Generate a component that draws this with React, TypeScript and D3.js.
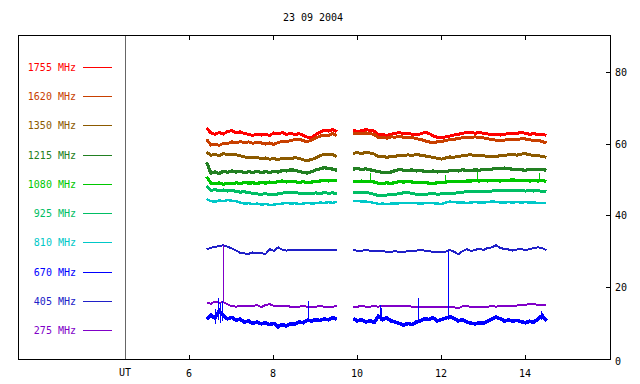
import React from "react";
import * as d3 from "d3";

// ---- data ----
const title = "23 09 2004";
const hourTicks = [6, 8, 10, 12, 14];
const valueTicks = [0, 20, 40, 60, 80];
const seg1Start = 6.42;
const seg2Start = 9.91;
const sampleStep = 0.1;

const freqLabels = ["1755 MHz", "1620 MHz", "1350 MHz", "1215 MHz", "1080 MHz", "925 MHz", "810 MHz", "670 MHz", "405 MHz", "275 MHz"];
const freqColors = ["#ff0000", "#c84000", "#8c5a00", "#228022", "#00c800", "#00be64", "#00c8c8", "#0000ff", "#2020c8", "#8000c8"];

const s1755a = [64.3, 63.0, 62.6, 63.1, 62.7, 63.4, 63.6, 63.0, 63.3, 62.8, 62.6, 62.3, 62.7, 62.4, 62.6, 62.3, 63.0, 62.7, 63.1, 62.6, 62.9, 62.5, 62.8, 62.3, 61.8, 61.5, 62.6, 63.2, 63.8, 63.5, 63.9, 63.3];
const s1755b = [63.8, 63.3, 63.6, 63.9, 63.7, 63.5, 62.4, 62.6, 62.3, 62.6, 62.9, 63.1, 62.8, 62.9, 62.6, 62.5, 62.7, 63.1, 62.9, 62.2, 61.8, 61.7, 61.9, 62.1, 62.4, 62.6, 62.9, 63.1, 63.2, 62.9, 63.1, 62.9, 62.7, 62.5, 62.6, 62.4, 62.6, 62.8, 62.7, 62.9, 63.1, 62.9, 62.6, 62.8, 62.5, 62.6, 62.3];
const s1620a = [61.2, 59.6, 59.9, 59.5, 60.1, 60.0, 60.5, 60.2, 60.6, 60.3, 60.5, 60.1, 60.4, 60.2, 59.9, 60.2, 59.8, 60.3, 60.6, 60.5, 60.9, 61.1, 61.3, 60.8, 60.6, 61.0, 61.6, 62.1, 62.4, 62.3, 62.8, 62.2];
const s1620b = [62.7, 62.9, 62.7, 63.0, 62.8, 62.6, 61.6, 61.8, 61.5, 61.9, 61.8, 62.0, 61.8, 61.6, 61.7, 61.4, 61.2, 60.8, 60.5, 60.3, 60.5, 60.6, 60.9, 61.1, 61.2, 61.5, 61.6, 61.8, 61.7, 61.9, 61.7, 61.6, 61.4, 61.1, 61.0, 60.9, 61.0, 61.2, 61.3, 61.1, 61.4, 61.3, 61.1, 60.9, 61.0, 60.6, 60.2];
const s1350a = [57.6, 56.8, 57.0, 56.7, 57.2, 57.0, 57.1, 56.9, 56.6, 56.3, 56.1, 56.0, 56.2, 55.8, 56.0, 55.7, 55.8, 55.6, 55.9, 56.0, 55.8, 56.1, 55.9, 55.5, 55.3, 55.6, 56.0, 56.6, 57.1, 56.9, 57.0, 56.3];
const s1350b = [57.3, 57.5, 57.2, 57.6, 57.4, 57.1, 56.3, 56.5, 56.2, 56.4, 56.5, 56.7, 56.6, 56.9, 56.7, 57.0, 56.8, 56.6, 56.4, 56.2, 55.9, 55.7, 56.0, 56.3, 56.2, 56.5, 56.6, 56.8, 56.9, 56.7, 56.8, 56.6, 56.5, 56.3, 56.5, 56.6, 56.7, 56.9, 57.0, 56.8, 57.1, 57.2, 56.9, 56.7, 56.6, 56.5, 56.2];
const s1215a = [54.8, 51.8, 52.1, 51.7, 52.3, 52.0, 52.4, 52.1, 52.3, 51.9, 52.2, 52.0, 52.3, 51.9, 52.2, 52.0, 52.3, 52.1, 52.5, 52.4, 52.7, 52.6, 52.3, 52.0, 51.8, 52.2, 52.7, 53.0, 53.3, 53.1, 52.9, 52.6];
const s1215b = [52.9, 53.1, 52.8, 53.0, 52.7, 52.5, 52.2, 52.0, 51.9, 52.1, 52.5, 52.8, 52.6, 52.5, 52.7, 52.4, 52.5, 52.3, 52.2, 52.4, 52.1, 52.3, 52.2, 52.5, 52.6, 52.4, 52.7, 52.6, 52.5, 52.7, 52.6, 52.8, 52.7, 52.9, 53.1, 53.0, 53.2, 53.0, 52.9, 52.8, 52.7, 52.6, 52.8, 52.9, 52.7, 52.8, 52.6];
const s1080a = [50.8, 49.0, 48.8, 49.1, 48.7, 49.0, 48.8, 49.1, 48.9, 49.2, 49.0, 49.1, 48.9, 49.2, 49.0, 49.3, 49.1, 49.4, 49.6, 49.3, 49.5, 49.4, 49.2, 49.4, 49.1, 49.3, 49.5, 49.6, 49.8, 49.6, 49.7, 49.8];
const s1080b = [49.5, 49.4, 49.6, 49.4, 49.5, 49.3, 49.0, 48.9, 49.1, 48.9, 49.2, 49.4, 49.3, 49.5, 49.3, 49.2, 49.1, 49.2, 49.0, 48.9, 49.1, 49.2, 49.3, 49.5, 49.4, 49.5, 49.4, 49.6, 49.6, 49.7, 49.6, 49.7, 49.6, 49.8, 49.7, 49.6, 49.7, 49.8, 49.9, 49.8, 49.7, 49.8, 49.6, 49.7, 49.6, 49.7, 49.5];
const s925a = [48.2, 47.0, 47.2, 46.9, 47.1, 46.8, 47.0, 46.7, 46.5, 46.6, 46.3, 46.2, 46.0, 45.9, 46.1, 45.8, 45.7, 46.0, 46.2, 46.4, 46.3, 46.5, 46.2, 46.0, 46.2, 46.1, 46.3, 46.0, 46.4, 46.2, 46.3, 46.1];
const s925b = [46.4, 46.3, 46.5, 46.4, 46.2, 45.9, 45.5, 45.6, 45.7, 45.8, 45.9, 46.1, 46.3, 46.4, 46.1, 45.9, 45.8, 45.9, 46.0, 46.1, 45.9, 46.0, 46.1, 46.0, 46.2, 46.3, 46.5, 46.6, 46.7, 46.6, 46.8, 46.7, 46.6, 46.8, 46.9, 47.0, 46.9, 47.0, 46.9, 46.8, 46.9, 46.8, 46.9, 46.8, 46.9, 46.7, 46.6];
const s810a = [44.6, 44.0, 43.8, 44.2, 44.0, 44.3, 44.1, 44.0, 43.6, 43.3, 43.4, 43.2, 43.3, 43.0, 43.2, 42.9, 43.0, 43.2, 43.3, 43.5, 43.3, 43.4, 43.2, 43.3, 43.5, 43.3, 43.4, 43.6, 43.5, 43.7, 43.5, 43.8];
const s810b = [44.1, 44.0, 43.9, 43.9, 43.7, 43.5, 43.2, 43.3, 43.2, 43.3, 43.3, 43.4, 43.5, 43.4, 43.5, 43.4, 43.3, 43.4, 43.5, 43.4, 43.3, 43.2, 43.6, 43.9, 43.7, 43.6, 43.6, 43.5, 43.6, 43.7, 43.6, 43.6, 43.7, 43.9, 43.8, 43.6, 43.6, 43.7, 43.6, 43.7, 43.6, 43.7, 43.6, 43.6, 43.5, 43.5, 43.4];
const s670a = [11.0, 12.2, 11.4, 13.5, 12.0, 11.2, 11.6, 10.8, 11.1, 10.3, 10.6, 9.9, 10.3, 9.8, 10.1, 9.6, 9.9, 9.0, 9.6, 9.2, 9.8, 9.7, 10.3, 10.1, 10.8, 10.6, 11.0, 10.7, 11.2, 10.9, 11.5, 11.1];
const s670b = [11.3, 10.6, 11.0, 10.3, 10.7, 10.2, 11.9, 11.0, 11.5, 10.6, 10.3, 9.9, 9.4, 9.9, 9.6, 10.3, 10.6, 11.2, 11.0, 11.5, 10.6, 11.0, 11.4, 11.8, 11.3, 10.6, 10.9, 10.3, 10.0, 9.8, 10.1, 9.9, 10.6, 11.1, 11.7, 11.2, 10.6, 10.9, 10.5, 10.8, 10.4, 10.1, 10.5, 10.2, 11.2, 12.1, 10.6];
const s405a = [30.5, 31.0, 31.2, 31.5, 31.7, 31.3, 30.8, 30.2, 29.6, 29.4, 29.3, 29.7, 29.4, 29.5, 29.2, 30.6, 30.1, 31.1, 30.5, 30.2, 30.4, 30.4, 30.5, 30.3, 30.4, 30.4, 30.3, 30.5, 30.4, 30.3, 30.5, 30.3];
const s405b = [30.3, 30.2, 30.2, 30.3, 30.2, 30.2, 30.1, 30.0, 29.9, 29.9, 30.0, 29.9, 29.9, 30.0, 30.1, 30.2, 30.4, 30.2, 30.0, 29.9, 29.8, 29.7, 29.9, 30.4, 29.9, 29.2, 30.0, 30.6, 30.1, 30.4, 30.7, 30.4, 30.9, 31.1, 31.7, 30.9, 30.7, 30.5, 30.2, 30.5, 30.6, 30.4, 30.6, 30.9, 31.1, 30.9, 30.3];
const s275a = [15.8, 15.4, 16.0, 15.7, 15.8, 15.2, 14.7, 14.6, 14.8, 14.7, 14.8, 14.8, 15.0, 14.5, 15.0, 15.3, 14.8, 14.7, 14.8, 14.7, 14.6, 14.6, 14.6, 14.7, 14.6, 14.6, 14.6, 14.7, 14.6, 14.6, 14.6, 14.7];
const s275b = [14.6, 14.6, 14.7, 14.6, 14.6, 14.7, 14.6, 14.8, 14.7, 14.8, 14.7, 14.8, 14.7, 14.7, 14.6, 14.5, 14.4, 14.5, 14.6, 14.6, 14.6, 14.6, 14.6, 14.5, 14.4, 14.1, 14.7, 14.8, 14.5, 14.4, 14.6, 14.6, 14.6, 14.7, 14.6, 14.7, 14.8, 14.8, 14.8, 14.9, 15.0, 15.1, 15.3, 15.3, 15.1, 15.1, 15.0];

// brief bursts: series index, hour, low, high
const spikeHours = [6.62, 6.70, 6.74, 6.78, 8.84, 8.12, 10.54, 10.58, 11.46, 12.17, 14.38, 6.81, 10.31, 12.1, 12.85, 14.33];
const spikeSeries = [7, 7, 7, 7, 7, 7, 7, 7, 7, 7, 7, 9, 4, 4, 4, 4];
const spikeLow = [9.8, 11.0, 10.0, 10.5, 10.5, 8.3, 10.5, 10.8, 10.3, 11.0, 10.8, 15.7, 49.5, 49.3, 49.7, 49.6];
const spikeHigh = [13.8, 17.0, 15.5, 16.3, 16.2, 9.6, 15.0, 14.2, 16.9, 30.0, 13.5, 31.8, 51.8, 51.2, 52.0, 51.9];

const seriesA = [s1755a, s1620a, s1350a, s1215a, s1080a, s925a, s810a, s670a, s405a, s275a];
const seriesB = [s1755b, s1620b, s1350b, s1215b, s1080b, s925b, s810b, s670b, s405b, s275b];

// ---- layout / style ----
const W = 640, H = 384;
const frameL = 18, frameR = 610, frameT = 36, frameB = 359;
const utX = 125;
const font = "'DejaVu Sans Mono', monospace";
const seriesWidths = [3, 3, 3, 3.2, 3.2, 3, 2.4, 3.6, 2, 2];

export default function App() {
  const x = d3.scaleLinear().domain([6, 14]).range([189, 525]);
  const y = d3.scaleLinear().domain([0, 90]).range([frameB, frameT]);
  const line = d3.line<[number, number]>().x((d) => x(d[0])).y((d) => y(d[1]));
  const toPts = (arr: number[], start: number) => arr.map((v, i) => [start + i * sampleStep, v] as [number, number]);
  const legendY = d3.scalePoint<number>().domain(d3.range(freqLabels.length)).range([67, 330]);

  return (
    <svg width={W} height={H} style={{ position: "absolute", left: 0, top: 0, background: "#fff" }} fontFamily={font}>
      <rect x={0} y={0} width={W} height={H} fill="#fff" />
      <text x={313} y={21} fontSize={10} textAnchor="middle" fill="#000">{title}</text>
      {/* frame */}
      <g stroke="#000" strokeWidth={1} shapeRendering="crispEdges" fill="none">
        <line x1={frameL} x2={frameR} y1={frameT - 0.5} y2={frameT - 0.5} />
        <line x1={frameL} x2={frameR} y1={frameB + 0.5} y2={frameB + 0.5} />
        <line x1={frameL + 0.5} x2={frameL + 0.5} y1={frameT - 1} y2={frameB + 1} />
        <line x1={frameR + 0.5} x2={frameR + 0.5} y1={frameT - 1} y2={frameB + 1} />
      </g>
      <line x1={utX + 0.5} x2={utX + 0.5} y1={frameT} y2={frameB} stroke="#666" strokeWidth={1} shapeRendering="crispEdges" />
      {/* x ticks */}
      {hourTicks.map((h) => (
        <g key={h}>
          <line x1={Math.round(x(h)) + 0.5} x2={Math.round(x(h)) + 0.5} y1={frameB} y2={frameB - 4} stroke="#000" shapeRendering="crispEdges" />
          <line x1={Math.round(x(h)) + 0.5} x2={Math.round(x(h)) + 0.5} y1={frameT} y2={frameT + 4} stroke="#000" shapeRendering="crispEdges" />
          <text x={x(h)} y={377} fontSize={10} textAnchor="middle">{h}</text>
        </g>
      ))}
      <text x={utX} y={376} fontSize={10} textAnchor="middle">UT</text>
      {/* y ticks right */}
      {valueTicks.map((v) => (
        <g key={v}>
          {v > 0 && <line x1={frameR - 4} x2={frameR} y1={Math.round(y(v)) + 0.5} y2={Math.round(y(v)) + 0.5} stroke="#000" shapeRendering="crispEdges" />}
          <text x={615} y={y(v) + (v === 0 ? 6 : 4)} fontSize={10}>{v}</text>
        </g>
      ))}
      {/* legend */}
      {freqLabels.map((lab, i) => (
        <g key={lab}>
          <text x={76} y={legendY(i)! + 4} fontSize={10} textAnchor="end" fill={freqColors[i]}>{lab}</text>
          <line x1={83} x2={112} y1={legendY(i)! + 0.5} y2={legendY(i)! + 0.5} stroke={freqColors[i]} shapeRendering="crispEdges" />
        </g>
      ))}
      {/* data */}
      <g fill="none" strokeLinejoin="miter" shapeRendering="crispEdges">
        {seriesA.map((s, i) => (
          <path key={"a" + i} d={line(toPts(s, seg1Start)) || ""} stroke={freqColors[i]} strokeWidth={seriesWidths[i]} />
        ))}
        {seriesB.map((s, i) => (
          <path key={"b" + i} d={line(toPts(s, seg2Start)) || ""} stroke={freqColors[i]} strokeWidth={seriesWidths[i]} />
        ))}
        {spikeHours.map((h, k) => (
          <line key={"s" + k} x1={Math.round(x(h)) + 0.5} x2={Math.round(x(h)) + 0.5} y1={y(spikeLow[k])} y2={y(spikeHigh[k])} stroke={freqColors[spikeSeries[k]]} strokeWidth={1} />
        ))}
      </g>
    </svg>
  );
}
